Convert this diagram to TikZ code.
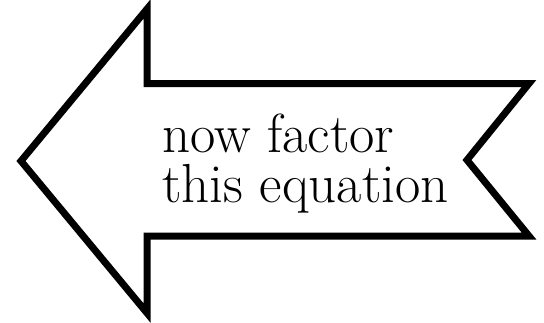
\documentclass[tikz,border=0pt]{standalone}
\begin{document}
\begin{tikzpicture}[x=1bp,y=-1bp,
  arrowshape/.style={draw=black,line width=7bp,line join=miter,fill=white},
  label/.style={font=\fontsize{55bp}{50bp}\selectfont,align=left,inner sep=0pt,anchor=base west}]
\useasboundingbox (0,0) rectangle (544,322);
\coordinate (tip) at (21,161);
\coordinate (headtop) at (147,9);
\coordinate (shafttop) at (147,83.5);
\coordinate (tailtop) at (529,83.5);
\coordinate (notch) at (467,160);
\coordinate (tailbot) at (529,236);
\coordinate (shaftbot) at (147,236);
\coordinate (headbot) at (147,313);
\draw[arrowshape] (tip) -- (headtop) -- (shafttop) -- (tailtop) -- (notch) -- (tailbot) -- (shaftbot) -- (headbot) -- cycle;
\node[label] (txt) at (162,202) {now factor\\this equation};
\end{tikzpicture}
\end{document}
